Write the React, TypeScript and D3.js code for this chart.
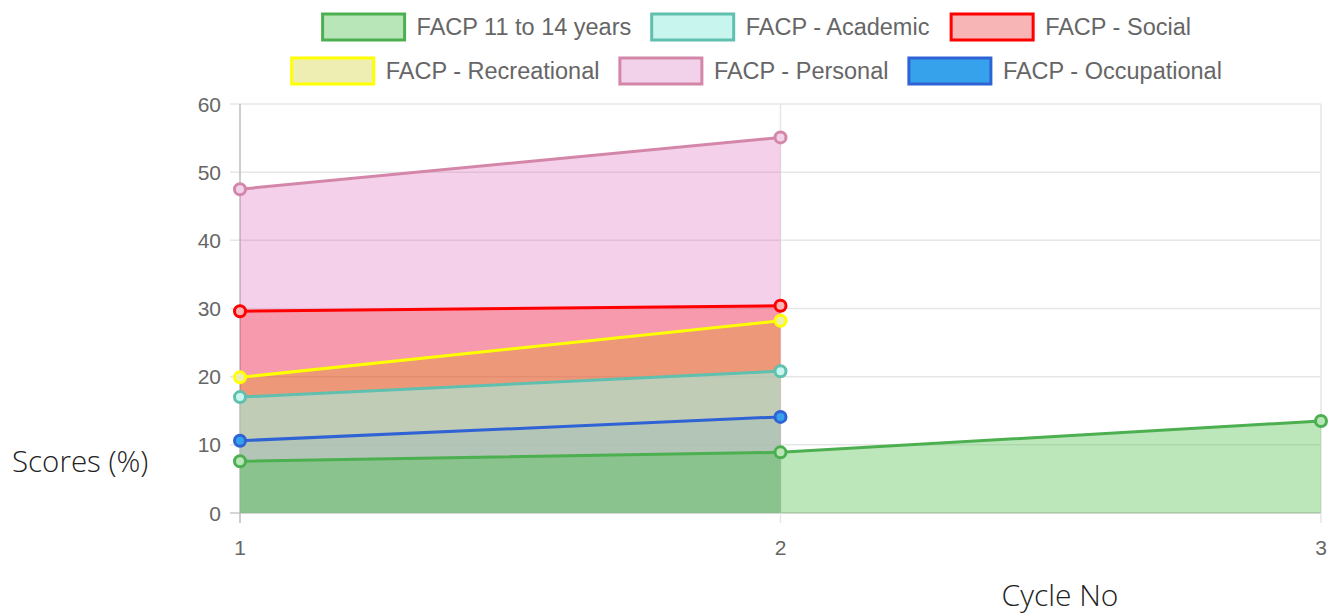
import React, { useRef, useEffect } from 'react';
import * as d3 from 'd3';

// cycle numbers on the x axis
const cycles = [1, 2, 3];
const yTicks = [0, 10, 20, 30, 40, 50, 60];

// series, listed in legend order
const seriesNames = [
  'FACP 11 to 14 years',
  'FACP - Academic',
  'FACP - Social',
  'FACP - Recreational',
  'FACP - Personal',
  'FACP - Occupational',
];
const ageValues = [7.6, 8.9, 13.5];
const academicValues = [17.0, 20.8];
const socialValues = [29.6, 30.4];
const recreationalValues = [19.9, 28.2];
const personalValues = [47.5, 55.1];
const occupationalValues = [10.6, 14.1];

const seriesValues = [ageValues, academicValues, socialValues, recreationalValues, personalValues, occupationalValues];
const lineColors = ['#4caf50', '#5fc0b0', '#ff0000', '#ffff00', '#d486a8', '#2f62d4'];
const fillColors = [
  'rgba(75,192,75,0.38)',
  'rgba(150,255,245,0.5)',
  'rgba(255,0,0,0.26)',
  'rgba(200,200,0,0.3)',
  'rgba(220,100,190,0.3)',
  'rgba(54,162,235,0.4)',
];
const legendFills = ['#b8e6b8', '#c8f5ee', '#f7b5b5', '#eeeeb2', '#f2d2ea', '#36a2eb'];
const pointFills = ['#b8e6b8', '#c8f5ee', '#f7b5b5', '#eeeeb2', '#f2d2ea', '#36a2eb'];
const legendRows = [[0, 1, 2], [3, 4, 5]];

const App = () => {
  const svgRef = useRef<SVGSVGElement>(null);

  useEffect(() => {
    const svg = d3.select(svgRef.current);
    svg.selectAll('*').remove();

    const width = 1331;
    const height = 615;
    const left = 240, right = 1321, top = 104, bottom = 513;
    const sans = 'Liberation Sans, Arial, sans-serif';

    const x = d3.scaleLinear().domain([1, 3]).range([left, right]);
    const y = d3.scaleLinear().domain([0, 60]).range([bottom, top]);

    // grid
    const grid = svg.append('g');
    yTicks.forEach(t => {
      grid.append('line')
        .attr('x1', left - 10).attr('x2', right)
        .attr('y1', y(t)).attr('y2', y(t))
        .attr('stroke', t === 0 ? '#c8c8c8' : '#e6e6e6').attr('stroke-width', 1.5);
      grid.append('text')
        .attr('x', left - 19).attr('y', y(t)).attr('dy', '0.36em')
        .attr('text-anchor', 'end')
        .attr('font-family', sans)
        .attr('font-size', 21).attr('fill', '#666')
        .text(t);
    });
    cycles.forEach(c => {
      grid.append('line')
        .attr('x1', x(c)).attr('x2', x(c))
        .attr('y1', top).attr('y2', bottom + 10)
        .attr('stroke', c === 1 ? '#bdbdbd' : '#e6e6e6').attr('stroke-width', 1.5);
      grid.append('text')
        .attr('x', x(c)).attr('y', bottom + 34).attr('dy', '0.36em')
        .attr('text-anchor', 'middle')
        .attr('font-family', sans)
        .attr('font-size', 21).attr('fill', '#666')
        .text(c);
    });

    // draw bottom dataset first so the first series ends on top
    const order = d3.range(seriesNames.length).reverse();

    const area = d3.area<number>()
      .x((_, i) => x(cycles[i]))
      .y0(y(0))
      .y1(d => y(d));
    const line = d3.line<number>()
      .x((_, i) => x(cycles[i]))
      .y(d => y(d));

    order.forEach(s => {
      svg.append('path')
        .attr('d', area(seriesValues[s]))
        .attr('fill', fillColors[s]);
    });
    order.forEach(s => {
      svg.append('path')
        .attr('d', line(seriesValues[s]))
        .attr('fill', 'none')
        .attr('stroke', lineColors[s])
        .attr('stroke-width', 3);
    });
    order.forEach(s => {
      svg.append('g').selectAll('circle')
        .data(seriesValues[s])
        .enter().append('circle')
        .attr('cx', (_, i) => x(cycles[i]))
        .attr('cy', d => y(d))
        .attr('r', 5.5)
        .attr('fill', pointFills[s])
        .attr('stroke', lineColors[s])
        .attr('stroke-width', 3);
    });

    // legend
    const legendSize = 23.5;
    const ctx = document.createElement('canvas').getContext('2d')!;
    ctx.font = `${legendSize}px 'Liberation Sans', Arial, sans-serif`;
    const boxW = 82, boxH = 26, gap = 12, spacing = 20;
    const legendCenter = 757;
    legendRows.forEach((row, r) => {
      const cy = 27 + r * 44;
      const widths = row.map(s => boxW + gap + ctx.measureText(seriesNames[s]).width);
      const total = d3.sum(widths) + spacing * (row.length - 1);
      let cx = legendCenter - total / 2;
      row.forEach((s, k) => {
        svg.append('rect')
          .attr('x', cx).attr('y', cy - boxH / 2)
          .attr('width', boxW).attr('height', boxH)
          .attr('fill', legendFills[s])
          .attr('stroke', lineColors[s]).attr('stroke-width', 3);
        svg.append('text')
          .attr('x', cx + boxW + gap).attr('y', cy).attr('dy', '0.36em')
          .attr('font-family', sans)
          .attr('font-size', legendSize).attr('fill', '#666')
          .text(seriesNames[s]);
        cx += widths[k] + spacing;
      });
    });

    // axis titles
    svg.append('text')
      .attr('x', 12).attr('y', 472)
      .attr('font-family', 'Open Sans, sans-serif').attr('font-weight', 300)
      .attr('font-size', 29.5).attr('fill', '#222')
      .text('Scores (%)');
    svg.append('text')
      .attr('x', 1060).attr('y', 606)
      .attr('text-anchor', 'middle')
      .attr('font-family', 'Open Sans, sans-serif').attr('font-weight', 300)
      .attr('font-size', 30).attr('fill', '#222')
      .text('Cycle No');

    svg.attr('width', width).attr('height', height);
  }, []);

  return (
    <svg ref={svgRef} width={1331} height={615} style={{ position: 'absolute', left: 0, top: 0 }} />
  );
};

export default App;
